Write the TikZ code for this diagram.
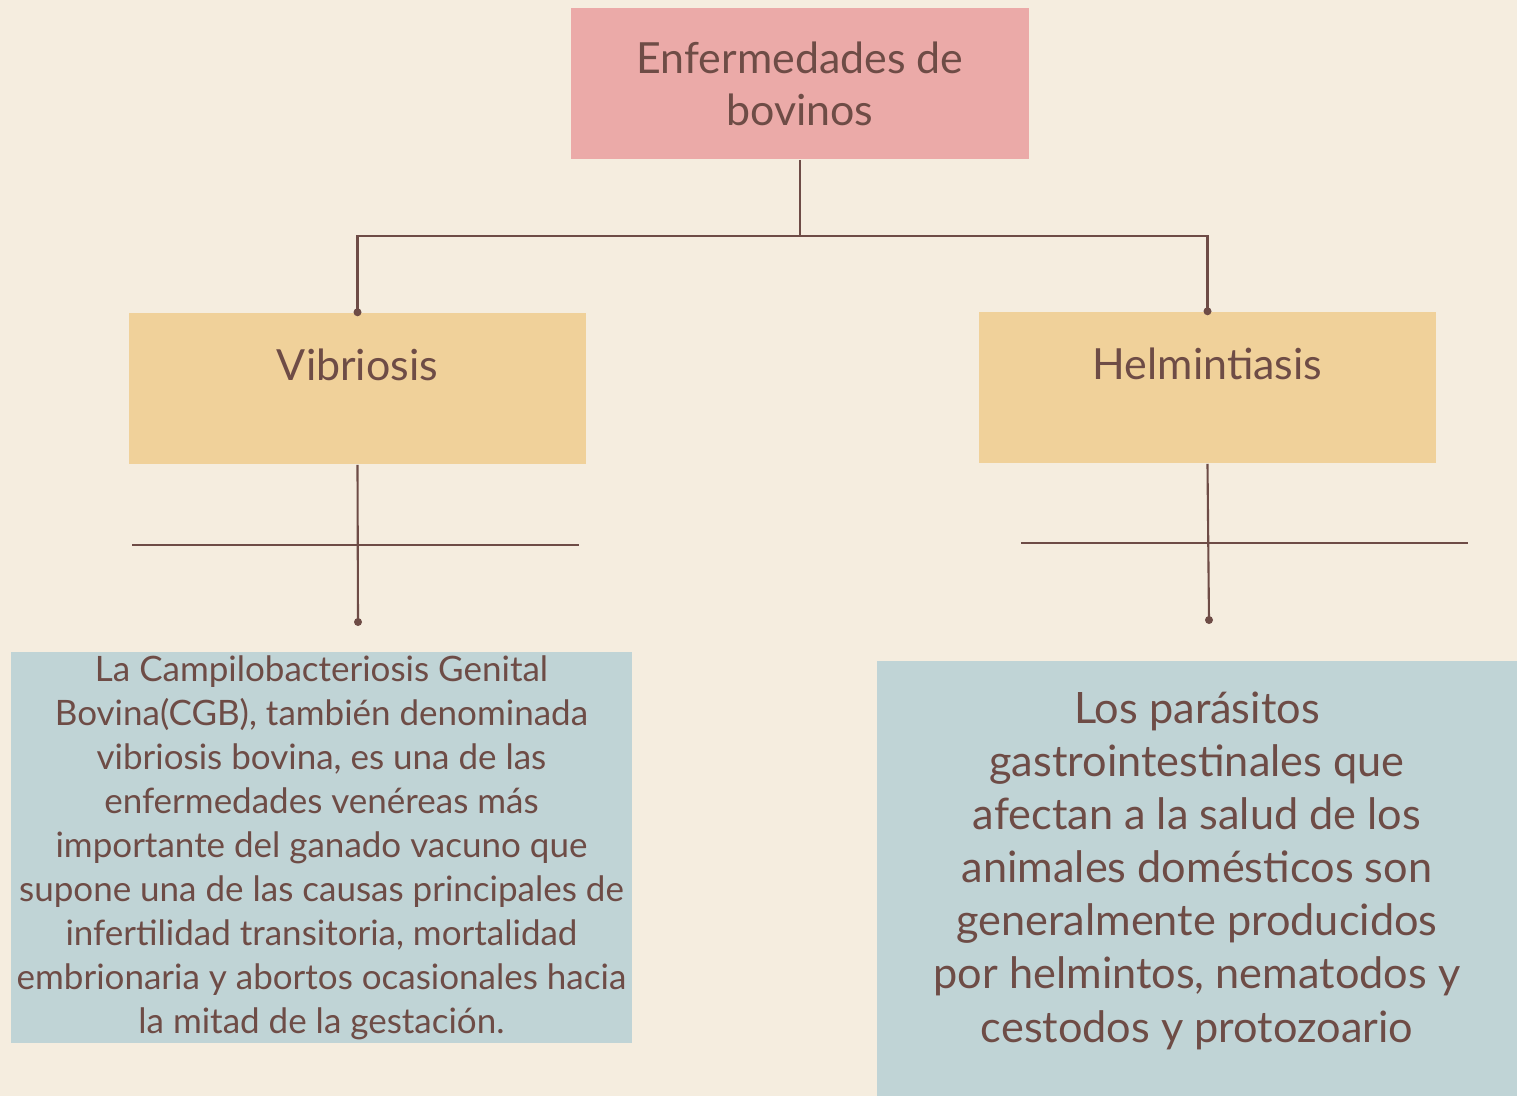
\documentclass[tikz,border=0pt]{standalone}
\usepackage{fontspec}
\setmainfont{Lato}
\usetikzlibrary{positioning}

\definecolor{paper}{HTML}{F5EDDF}
\definecolor{rosebox}{HTML}{EBAAA8}
\definecolor{sandbox}{HTML}{F0D19A}
\definecolor{mistbox}{HTML}{C0D4D6}
\definecolor{ink}{HTML}{6E4C46}

\begin{document}
\begin{tikzpicture}[x=0.01cm, y=-0.01cm,
    box/.style={inner sep=0pt, align=center, text=ink},
    head/.style={box, fill=rosebox, minimum width=4.57cm, minimum height=1.51cm,
        font=\fontsize{12.2}{14.8}\selectfont},
    kind/.style={box, fill=sandbox, minimum width=4.57cm, minimum height=1.51cm,
        font=\fontsize{12.2}{14.8}\selectfont, text height=0.3cm, text depth=0.46cm},
    note/.style={box, fill=mistbox},
    link/.style={draw=ink, line width=0.6pt},
    tip/.style={fill=ink}]

    \useasboundingbox[fill=paper] (0,0) rectangle (1517,1096);

    \node[head] (top) at (800,83.5) {Enfermedades de\\bovinos};
    \node[kind] (vib) at (357.5,388.5) {Vibriosis};
    \node[kind] (helm) at (1207.5,387.5) {Helmintiasis};

    \node[note, minimum width=6.21cm, minimum height=3.91cm,
        font=\fontsize{9.95}{12.5}\selectfont] (vibtxt) at (321.5,847.5)
        {La Campilobacteriosis Genital\\
         Bovina(CGB), también denominada\\
         vibriosis bovina, es una de las\\
         enfermedades venéreas más\\
         importante del ganado vacuno que\\
         supone una de las causas principales de\\
         infertilidad transitoria, mortalidad\\
         embrionaria y abortos ocasionales hacia\\
         la mitad de la gestación.};
    \node[note, minimum width=6.4cm, minimum height=4.35cm,
        font=\fontsize{12.3}{15.1}\selectfont] (helmtxt) at (1197,878.5)
        {Los parásitos\\
         gastrointestinales que\\
         afectan a la salud de los\\
         animales domésticos son\\
         generalmente producidos\\
         por helmintos, nematodos y\\
         cestodos y protozoario\\[-0.3cm]};

    \coordinate (fork) at (800,236);
    \coordinate (vibdot) at (358,622);
    \coordinate (helmdot) at (1209,620);
    \coordinate (vibbarL) at (132,545);
    \coordinate (vibbarR) at (579,545);
    \coordinate (helmbarL) at (1021,543);
    \coordinate (helmbarR) at (1468,543);

    % tree
    \draw[link] (top.south) -- (fork) -| (vib.north);
    \draw[link] (fork) -| (helm.north);
    \draw[link] (vib.south) -- (vibdot);
    \draw[link] (helm.south) -- (helmdot);
    \draw[link] (vibbarL) -- (vibbarR);
    \draw[link] (helmbarL) -- (helmbarR);

    \fill[tip] (vib.north) circle[radius=0.04cm];
    \fill[tip] (helm.north) circle[radius=0.04cm];
    \fill[tip] (vibdot) circle[radius=0.04cm];
    \fill[tip] (helmdot) circle[radius=0.04cm];

\end{tikzpicture}
\end{document}
